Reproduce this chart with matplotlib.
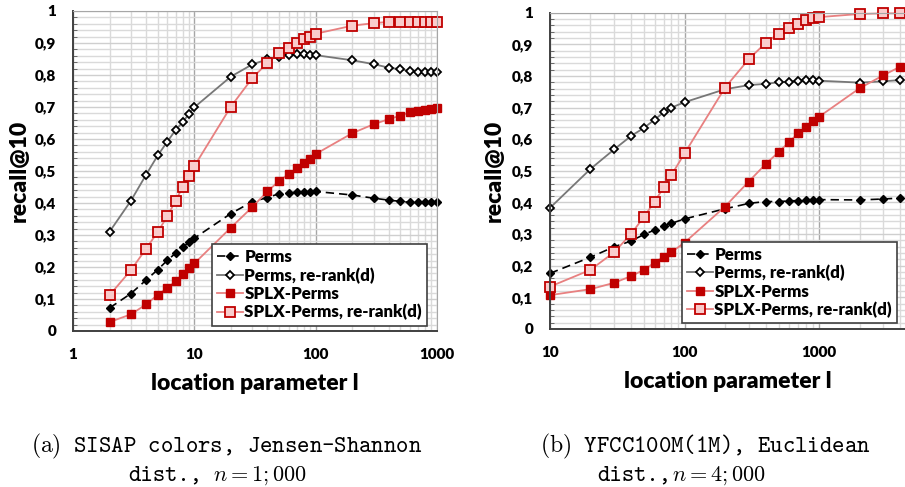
import numpy as np
import matplotlib
matplotlib.use("Agg")
import matplotlib.pyplot as plt
from matplotlib.ticker import FixedLocator, FixedFormatter, NullFormatter
from matplotlib.lines import Line2D

plt.rcParams['font.family'] = ['Lato', 'DejaVu Sans']
plt.rcParams['font.weight'] = 'bold'
plt.rcParams['mathtext.fontset'] = 'cm'

# (a) SISAP colors
x_a = [2, 3, 4, 5, 6, 7, 8, 9, 10, 20, 30, 40, 50, 60, 70, 80, 90, 100,
       200, 300, 400, 500, 600, 700, 800, 900, 1000]
perms_a = [0.072, 0.117, 0.159, 0.192, 0.221, 0.243, 0.261, 0.277, 0.290, 0.367,
           0.404, 0.417, 0.429, 0.431, 0.434, 0.435, 0.435, 0.436,
           0.425, 0.415, 0.409, 0.405, 0.402, 0.402, 0.402, 0.402, 0.402]
perms_rr_a = [0.310, 0.407, 0.488, 0.549, 0.592, 0.628, 0.652, 0.678, 0.699, 0.795,
              0.833, 0.849, 0.857, 0.864, 0.865, 0.865, 0.864, 0.862,
              0.846, 0.834, 0.823, 0.818, 0.812, 0.810, 0.808, 0.808, 0.808]
splx_a = [0.028, 0.052, 0.083, 0.113, 0.135, 0.155, 0.177, 0.196, 0.211, 0.323,
          0.387, 0.436, 0.469, 0.491, 0.508, 0.524, 0.538, 0.553,
          0.618, 0.646, 0.662, 0.673, 0.684, 0.689, 0.690, 0.694, 0.696]
splx_rr_a = [0.112, 0.190, 0.257, 0.310, 0.359, 0.407, 0.449, 0.485, 0.515, 0.701,
             0.790, 0.838, 0.868, 0.885, 0.900, 0.912, 0.920, 0.929,
             0.954, 0.962, 0.966, 0.967, 0.967, 0.967, 0.967, 0.967, 0.967]

# (b) YFCC100M(1M)
x_b = [10, 20, 30, 40, 50, 60, 70, 80, 100, 200, 300, 400, 500, 600, 700, 800,
       900, 1000, 2000, 3000, 4000]
perms_b = [0.176, 0.227, 0.260, 0.278, 0.299, 0.313, 0.326, 0.334, 0.348, 0.380,
           0.397, 0.403, 0.403, 0.405, 0.406, 0.408, 0.409, 0.409, 0.408, 0.411, 0.414]
perms_rr_b = [0.383, 0.506, 0.568, 0.610, 0.636, 0.662, 0.685, 0.700, 0.717, 0.758,
              0.771, 0.775, 0.780, 0.782, 0.784, 0.787, 0.786, 0.785, 0.779, 0.783, 0.787]
splx_b = [0.107, 0.126, 0.146, 0.167, 0.187, 0.210, 0.229, 0.243, 0.273, 0.387,
          0.466, 0.521, 0.559, 0.591, 0.619, 0.640, 0.659, 0.671, 0.761, 0.802, 0.829]
splx_rr_b = [0.134, 0.187, 0.243, 0.300, 0.355, 0.403, 0.448, 0.487, 0.555, 0.763,
             0.853, 0.904, 0.934, 0.951, 0.964, 0.977, 0.982, 0.986, 0.996, 0.998, 0.998]

series_names = ["Perms", "Perms, re-rank(d)", "SPLX-Perms", "SPLX-Perms, re-rank(d)"]
y_ticks = [0, 0.1, 0.2, 0.3, 0.4, 0.5, 0.6, 0.7, 0.8, 0.9, 1.0]
y_ticklabels = ["0", "0,1", "0,2", "0,3", "0,4", "0,5", "0,6", "0,7", "0,8", "0,9", "1"]
x_ticks_a = [1, 10, 100, 1000]
x_ticks_b = [10, 100, 1000]
captions = [(r"$\mathrm{(a)}$ SISAP colors, Jensen-Shannon", "dist.,", r"$n = 1;000$"),
            (r"$\mathrm{(b)}$ YFCC100M(1M), Euclidean", "dist.,", r"$n = 4;000$")]

RED = '#C00000'
PINKLINE = '#E88080'
PINKFILL = '#F9CCCC'
GRAYLINE = '#777777'

styles = [
    dict(marker='D', ms=4.2, color='black', mfc='black', mec='black', ls=(0, (5, 3)), lw=1.2),
    dict(marker='D', ms=4.2, color=GRAYLINE, mfc='white', mec='black', mew=1.3, ls='-', lw=1.3),
    dict(marker='s', ms=6.2, color=PINKLINE, mfc=RED, mec=RED, ls='-', lw=1.3),
    dict(marker='s', ms=6.6, color=PINKLINE, mfc=PINKFILL, mec=RED, mew=1.3, ls='-', lw=1.3),
]

W, H = 905, 487
fig = plt.figure(figsize=(W / 100, H / 100), dpi=100)

def px(x0, y0, x1, y1):
    return [x0 / W, 1 - y1 / H, (x1 - x0) / W, (y1 - y0) / H]

ax1 = fig.add_axes(px(73, 11, 437, 331))
ax2 = fig.add_axes(px(550, 12.7, 905, 329))


def setup(ax, xlim, xticks, ylabel_x):
    ax.set_xscale('log')
    ax.set_xlim(*xlim)
    ax.set_ylim(0, 1)
    ax.xaxis.set_major_locator(FixedLocator(xticks))
    ax.xaxis.set_major_formatter(FixedFormatter([str(t) for t in xticks]))
    ax.xaxis.set_minor_formatter(NullFormatter())
    ax.yaxis.set_major_locator(FixedLocator(y_ticks))
    ax.yaxis.set_major_formatter(FixedFormatter(y_ticklabels))
    ax.yaxis.set_minor_locator(FixedLocator(np.arange(0, 1.001, 0.02)))
    ax.grid(which='minor', color='#DADADA', lw=1.0)
    ax.grid(which='major', axis='y', color='#CFCFCF', lw=1.0)
    ax.grid(which='major', axis='x', color='#A6A6A6', lw=1.0)
    ax.set_axisbelow(True)
    ax.tick_params(axis='x', which='both', length=0, pad=12, labelsize=11)
    ax.tick_params(axis='y', which='major', length=0, pad=12, labelsize=11)
    ax.tick_params(axis='y', which='minor', direction='in', length=3, color='#555555')
    for lab in ax.get_xticklabels() + ax.get_yticklabels():
        lab.set_fontweight('heavy')
    ax.spines['left'].set_color('#404040')
    ax.spines['left'].set_linewidth(1.4)
    ax.spines['bottom'].set_color('#404040')
    ax.spines['bottom'].set_linewidth(1.4)
    ax.spines['top'].set_color('#A6A6A6')
    ax.spines['right'].set_color('#A6A6A6')
    ax.set_xlabel("location parameter l", fontsize=16.5, fontweight='heavy', labelpad=9)
    ax.set_ylabel("recall@10", fontsize=16.5, fontweight='heavy')
    ax.yaxis.set_label_coords(ylabel_x, 0.5)


setup(ax1, (1, 1000), x_ticks_a, -0.12)
setup(ax2, (10, 4355), x_ticks_b, -0.127)
ax2.spines['right'].set_visible(False)

for ax, xs, data in [(ax1, x_a, [perms_a, perms_rr_a, splx_a, splx_rr_a]),
                     (ax2, x_b, [perms_b, perms_rr_b, splx_b, splx_rr_b])]:
    for name, ys, st in zip(series_names, data, styles):
        ax.plot(xs, ys, label=name, clip_on=False, **st)

handles = [Line2D([], [], **st) for st in styles]
for ax, right, bottom in [(ax1, 427, 325.7), (ax2, 897, 323.3)]:
    leg = ax.legend(handles, series_names, loc='lower right',
                    bbox_to_anchor=(right / W, 1 - bottom / H),
                    bbox_transform=fig.transFigure, borderaxespad=0,
                    fancybox=False, framealpha=1, edgecolor='#404040',
                    handlelength=1.5, handletextpad=0.1, labelspacing=0.13,
                    borderpad=0.3, prop={'family': 'Lato', 'weight': 'heavy', 'size': 12.2})
    leg.get_frame().set_linewidth(1.2)

# captions
for (l1, d, m), c1, xd, xm in zip(captions, [227, 705], [128, 597], [213, 672]):
    fig.text(c1 / W, 1 - 452 / H, l1, ha='center', va='baseline',
             family='cmtt10', fontsize=17, fontweight='normal')
    fig.text(xd / W, 1 - 480.5 / H, d, ha='left', va='baseline',
             family='cmtt10', fontsize=17, fontweight='normal')
    fig.text(xm / W, 1 - 480.5 / H, m, ha='left', va='baseline',
             fontsize=16, fontweight='normal')

fig.savefig("out.png", dpi=100)
